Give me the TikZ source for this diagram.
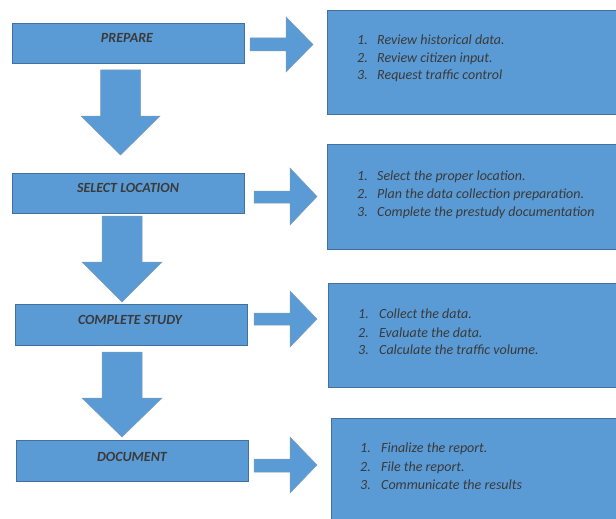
\documentclass[tikz,border=0pt]{standalone}
\usepackage{fontspec}
\setmainfont{Carlito}
\definecolor{boxblue}{HTML}{5B9BD5}
\definecolor{boxedge}{HTML}{41719C}
\definecolor{txt}{HTML}{3A3A3A}
\begin{document}
\begin{tikzpicture}[x=1pt,y=-1pt,
  box/.style={draw=boxedge, fill=boxblue, line width=0.8pt, inner sep=0pt, rectangle},
  title/.style={font=\fontsize{14}{16}\selectfont\bfseries\itshape, text=txt, anchor=base, inner sep=0pt},
  item/.style={font=\fontsize{14}{16}\selectfont\itshape, text=txt, anchor=base west, inner sep=0pt},
  blockarrow/.style={draw=boxedge!70, fill=boxblue, line width=0.5pt, line join=miter}]
\useasboundingbox (0,0) rectangle (616,519);

% left boxes
\node[box, minimum width=232pt, minimum height=40pt] (b1) at (128,43.5) {};
\node[box, minimum width=232pt, minimum height=40pt] (b2) at (128,193) {};
\node[box, minimum width=232pt, minimum height=41pt] (b3) at (131,324.5) {};
\node[box, minimum width=232pt, minimum height=41pt] (b4) at (132,460.5) {};
\node[title] (t1) at (127,42.5) {PREPARE};
\node[title] (t2) at (128,192.5) {SELECT LOCATION};
\node[title] (t3) at (130,324.5) {COMPLETE STUDY};
\node[title] (t4) at (132,461.5) {DOCUMENT};

% right boxes
\node[box, minimum width=291pt, minimum height=104pt] (r1) at (472.5,62) {};
\node[box, minimum width=291pt, minimum height=105pt] (r2) at (472.5,196.5) {};
\node[box, minimum width=290pt, minimum height=104pt] (r3) at (473,335) {};
\node[box, minimum width=287pt, minimum height=103pt] (r4) at (474.5,469.5) {};

% down arrows
\draw[blockarrow] (100.5,70) -- (140.5,70) -- (140.5,116) -- (160,116) -- (120.5,155) -- (81,116) -- (100.5,116) -- cycle;
\draw[blockarrow] (102,216) -- (142,216) -- (142,262) -- (162,262) -- (122,302) -- (82,262) -- (102,262) -- cycle;
\draw[blockarrow] (102,352) -- (142,352) -- (142,398) -- (162,398) -- (122,437) -- (82,398) -- (102,398) -- cycle;

% right arrows
\draw[blockarrow] (250,38) -- (286,38) -- (286,17) -- (313,44.5) -- (286,72) -- (286,51) -- (250,51) -- cycle;
\draw[blockarrow] (254,191) -- (290,191) -- (290,168) -- (317,196.5) -- (290,225) -- (290,203) -- (254,203) -- cycle;
\draw[blockarrow] (254,313) -- (290,313) -- (290,291) -- (317,319) -- (290,347) -- (290,325) -- (254,325) -- cycle;
\draw[blockarrow] (254,459) -- (290,459) -- (290,437) -- (317,465) -- (290,493) -- (290,472) -- (254,472) -- cycle;

% list items
\node[item] (n11) at (357,45) {1.}; \node[item] (i11) at (377,45) {Review historical data.};
\node[item] (n12) at (357,63) {2.}; \node[item] (i12) at (377,63) {Review citizen input.};
\node[item] (n13) at (357,80) {3.}; \node[item] (i13) at (377,80) {Request traffic control};

\node[item] (n21) at (357,180) {1.}; \node[item] (i21) at (377,180) {Select the proper location.};
\node[item] (n22) at (357,198) {2.}; \node[item] (i22) at (377,198) {Plan the data collection preparation.};
\node[item] (n23) at (357,216) {3.}; \node[item] (i23) at (377,216) {Complete the prestudy documentation};

\node[item] (n31) at (358,318) {1.}; \node[item] (i31) at (379,318) {Collect the data.};
\node[item] (n32) at (358,337) {2.}; \node[item] (i32) at (379,337) {Evaluate the data.};
\node[item] (n33) at (358,354) {3.}; \node[item] (i33) at (379,354) {Calculate the traffic volume.};

\node[item] (n41) at (360,452) {1.}; \node[item] (i41) at (381,452) {Finalize the report.};
\node[item] (n42) at (360,471) {2.}; \node[item] (i42) at (381,471) {File the report.};
\node[item] (n43) at (360,489) {3.}; \node[item] (i43) at (381,489) {Communicate the results};
\end{tikzpicture}
\end{document}
